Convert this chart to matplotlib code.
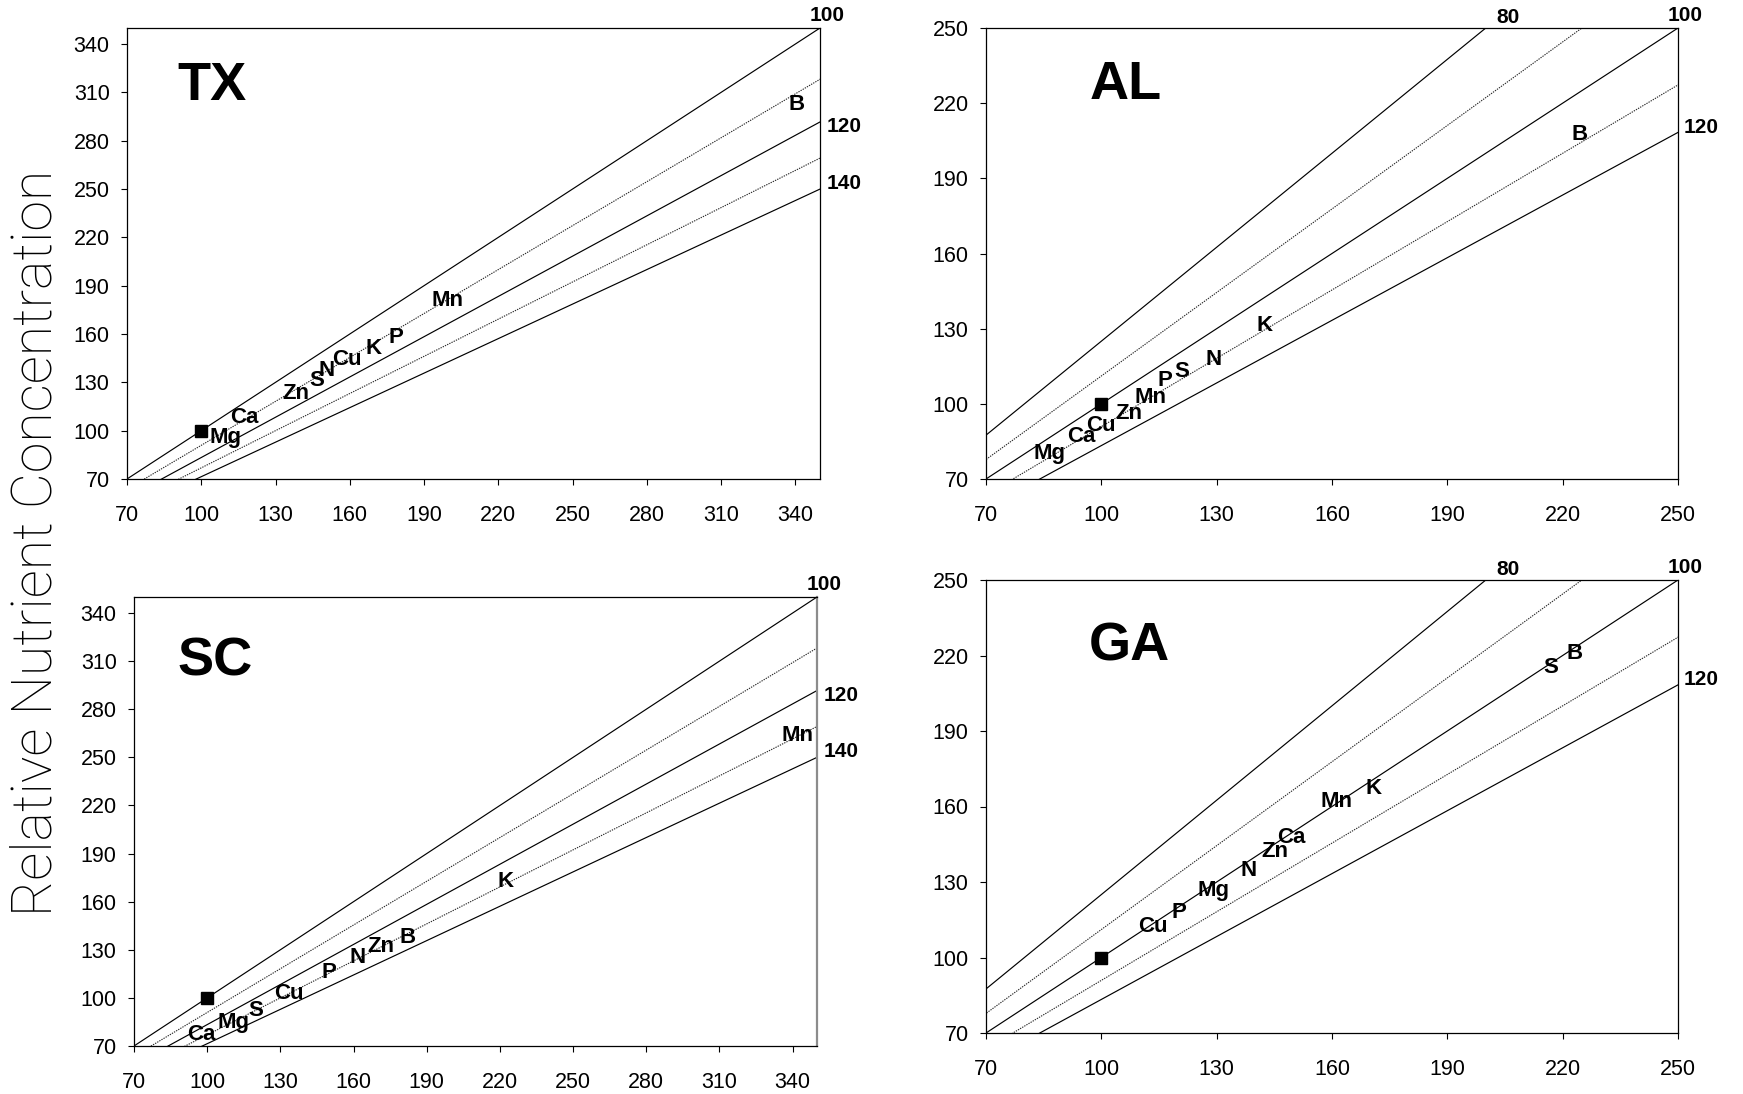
import matplotlib
matplotlib.use("Agg")
import matplotlib.pyplot as plt
import numpy as np

# ---------------- data ----------------
panels = ["TX", "AL", "SC", "GA"]

# iso-ratio lines (relative weight) for each panel
tx_ratios = [100, 110, 120, 130, 140]
al_ratios = [80, 90, 100, 110, 120]
sc_ratios = [100, 110, 120, 130, 140]
ga_ratios = [80, 90, 100, 110, 120]

# labelled lines
tx_labelled = [100, 120, 140]
al_labelled = [80, 100, 120]
sc_labelled = [100, 120, 140]
ga_labelled = [80, 100, 120]

# axis ranges / ticks
tx_ticks = [70, 100, 130, 160, 190, 220, 250, 280, 310, 340]
al_ticks = [70, 100, 130, 160, 190, 220, 250]
sc_ticks = [70, 100, 130, 160, 190, 220, 250, 280, 310, 340]
ga_ticks = [70, 100, 130, 160, 190, 220, 250]
tx_lim = [70, 350]
al_lim = [70, 250]
sc_lim = [70, 350]
ga_lim = [70, 250]

# reference point
ref_x = [100]
ref_y = [100]

# nutrient positions
tx_elements = ["B", "Mn", "P", "K", "Cu", "N", "S", "Zn", "Ca", "Mg"]
tx_x = [340.6, 199.3, 178.6, 169.5, 158.7, 150.8, 146.6, 138.2, 117.6, 109.8]
tx_y = [303.9, 182.0, 159.0, 152.2, 145.4, 138.7, 132.6, 124.3, 109.2, 97.0]

al_elements = ["B", "K", "N", "S", "P", "Mn", "Zn", "Cu", "Ca", "Mg"]
al_x = [224.5, 142.4, 129.2, 120.9, 116.6, 112.7, 107.1, 99.8, 94.8, 86.5]
al_y = [208.5, 132.0, 118.4, 113.9, 110.2, 103.5, 96.9, 92.3, 87.9, 81.0]

sc_elements = ["Mn", "K", "B", "Zn", "N", "P", "Cu", "S", "Mg", "Ca"]
sc_x = [341.9, 222.2, 182.1, 171.3, 161.5, 149.9, 133.6, 119.9, 110.6, 97.5]
sc_y = [264.7, 173.6, 138.9, 133.2, 126.2, 117.2, 103.8, 93.2, 85.7, 78.3]

ga_elements = ["B", "S", "K", "Mn", "Ca", "Zn", "N", "Mg", "P", "Cu"]
ga_x = [223.1, 216.9, 170.7, 161.2, 149.4, 145.2, 138.3, 129.2, 120.3, 113.4]
ga_y = [221.8, 215.9, 168.1, 162.7, 148.5, 142.8, 135.2, 127.5, 118.7, 113.0]

ylabel = "Relative Nutrient Concentration"

# ---------------- layout / style ----------------
W, H, DPI = 1743, 1094, 100
fig = plt.figure(figsize=(W / DPI, H / DPI), dpi=DPI)
plt.rcParams["font.family"] = ["Liberation Sans", "DejaVu Sans"]

def rect(l, r, t, b):
    return [l / W, 1 - b / H, (r - l) / W, (b - t) / H]

layout = {
    "TX": rect(127, 820, 28, 479),
    "AL": rect(986, 1678, 28, 479),
    "SC": rect(134, 817, 597, 1046),
    "GA": rect(986, 1678, 580, 1033),
}
title_pos = {"TX": (0.122, 0.872), "AL": (0.202, 0.873),
             "SC": (0.119, 0.857), "GA": (0.207, 0.853)}

panel_data = {
    "TX": (tx_ratios, tx_labelled, tx_ticks, tx_lim, tx_elements, tx_x, tx_y),
    "AL": (al_ratios, al_labelled, al_ticks, al_lim, al_elements, al_x, al_y),
    "SC": (sc_ratios, sc_labelled, sc_ticks, sc_lim, sc_elements, sc_x, sc_y),
    "GA": (ga_ratios, ga_labelled, ga_ticks, ga_lim, ga_elements, ga_x, ga_y),
}

px = 72.0 / DPI  # pixels -> points

for name in panels:
    ratios, labelled, ticks, lim, els, ex, ey = panel_data[name]
    ax = fig.add_axes(layout[name])
    xs = np.linspace(0, 400, 200)
    for r in ratios:
        solid = (r % 20 == 0)
        ax.plot(xs, xs * 100.0 / r,
                color="black" if solid else "0.15",
                lw=0.85 if solid else 0.8,
                ls="-" if solid else (0, (1.2, 1.0)),
                zorder=2)
        if r in labelled:
            x_end = min(lim[1], lim[1] * r / 100.0)
            y_end = x_end * 100.0 / r
            if r < 100:      # ends on top spine
                off, ha, va = (11, 5), "left", "baseline"
            elif r == 100:   # corner
                off, ha, va = (-10, 7), "left", "baseline"
            else:            # ends on right spine
                if name in ("TX", "SC"):
                    off = (7, -5) if r == 120 else (7, 6)
                else:
                    off = (6, 5)
                ha, va = "left", "center"
            ax.annotate(str(r), (x_end, y_end), xytext=(off[0] * px, off[1] * px),
                        textcoords="offset points", ha=ha, va=va,
                        fontsize=15, fontweight="bold", annotation_clip=False)
    ax.plot(ref_x, ref_y, marker="s", ms=8.3, color="black", ls="none", zorder=4)
    for e, x, y in zip(els, ex, ey):
        ax.annotate(e, (x, y), xytext=(0, -1.5), textcoords="offset points",
                    ha="center", va="center", fontsize=16,
                    fontweight="bold", zorder=5)
    ax.text(*title_pos[name], name, transform=ax.transAxes, ha="center",
            va="center", fontsize=39, fontweight="bold")
    ax.set_xlim(lim)
    ax.set_ylim(lim)
    ax.set_xticks(ticks)
    ax.set_yticks(ticks)
    ax.tick_params(direction="out", length=4.5, width=0.8, labelsize=15.5,
                   pad=8, color="black")
    ax.tick_params(axis="x", pad=14)
    for s in ax.spines.values():
        s.set_linewidth(0.9)
    if name == "SC":
        ax.spines["right"].set_color("0.55")
        ax.spines["right"].set_linewidth(1.6)

fig.text(36 / W, 1 - 543 / H, ylabel, rotation=90, ha="center", va="center",
         fontsize=40, family=["Roboto", "DejaVu Sans"], fontweight="light")

fig.savefig("out.png", dpi=DPI)
